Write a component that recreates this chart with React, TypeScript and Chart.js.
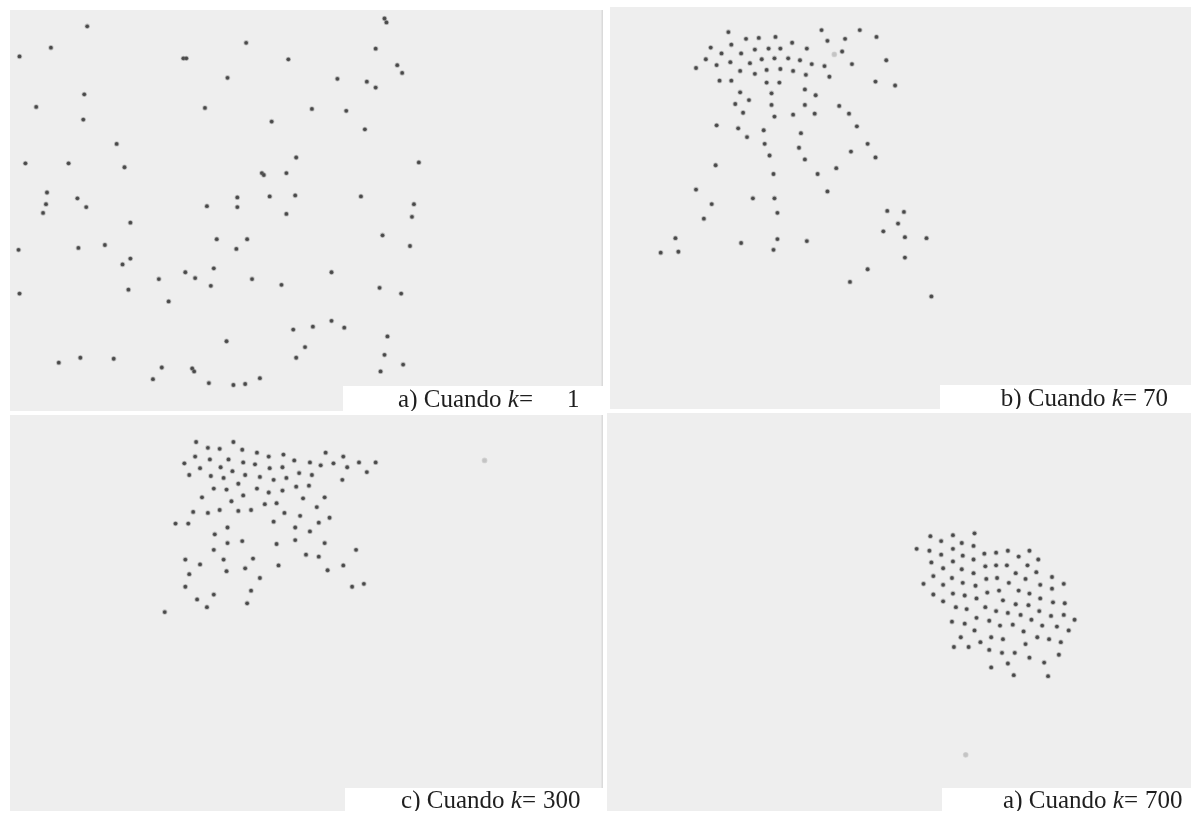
import React, { useEffect, useRef } from "react";
import { Chart, registerables } from "chart.js";

Chart.register(...registerables);

// ---- DATA (positions of swarm agents, per iteration k) ----
const kValues = [1, 70, 300, 700];
const panelLetters = ["a)", "b)", "c)", "a)"];

const swarmK1: [number, number][] = [
  [83, 21], [46, 43], [14, 52], [181, 54], [184, 54], [245, 38], [288, 55], [386, 13], [388, 17],
  [377, 44], [399, 61], [404, 69], [226, 74], [338, 75], [368, 78], [377, 84], [80, 91], [31, 104],
  [203, 105], [312, 106], [347, 108], [79, 117], [271, 119], [366, 127], [113, 142], [296, 156],
  [20, 162], [64, 162], [121, 166], [421, 161], [261, 172], [263, 174], [286, 172], [42, 192],
  [41, 204], [73, 198], [82, 207], [205, 206], [236, 197], [236, 207], [269, 196], [295, 195],
  [362, 196], [416, 204], [38, 213], [286, 214], [414, 217], [127, 223], [384, 236], [13, 251],
  [74, 249], [101, 246], [215, 240], [246, 240], [235, 250], [412, 247], [119, 266], [127, 260],
  [212, 270], [183, 274], [193, 280], [156, 281], [209, 288], [251, 281], [281, 287], [332, 274],
  [381, 290], [403, 296], [125, 292], [14, 296], [166, 304], [293, 333], [313, 330], [332, 324],
  [345, 331], [389, 340], [225, 345], [305, 351], [296, 362], [386, 359], [405, 369], [382, 376],
  [54, 367], [76, 362], [110, 363], [159, 372], [150, 384], [190, 373], [192, 376], [207, 388],
  [232, 390], [244, 389], [259, 383],
];

const swarmK70: [number, number][] = [
  [725, 27], [820, 25], [859, 25], [876, 32], [743, 34], [756, 33], [773, 32], [826, 36], [844, 34],
  [728, 40], [790, 38], [707, 43], [752, 45], [766, 44], [778, 44], [805, 44], [718, 49], [738, 49],
  [841, 47], [702, 55], [759, 55], [772, 54], [786, 54], [798, 56], [713, 61], [727, 58], [747, 59],
  [810, 60], [823, 62], [851, 60], [886, 56], [692, 64], [737, 67], [752, 70], [764, 66], [778, 65],
  [791, 67], [804, 71], [828, 73], [716, 77], [728, 77], [764, 79], [777, 79], [875, 78], [895, 82],
  [737, 89], [769, 90], [803, 86], [814, 92], [746, 97], [732, 101], [769, 102], [803, 102],
  [838, 103], [740, 110], [772, 114], [791, 112], [813, 111], [848, 111], [713, 123], [735, 126],
  [761, 128], [799, 131], [856, 124], [744, 135], [762, 142], [797, 146], [867, 142], [850, 150],
  [767, 154], [803, 158], [875, 156], [712, 164], [835, 167], [771, 173], [816, 173], [692, 189],
  [826, 191], [750, 198], [772, 198], [708, 204], [700, 219], [775, 213], [887, 211], [904, 212],
  [898, 224], [883, 232], [905, 238], [927, 239], [671, 239], [656, 254], [674, 253], [738, 244],
  [775, 240], [805, 242], [771, 251], [905, 259], [867, 271], [849, 284], [932, 299],
];
const strayK70: [number, number][] = [[833, 50]];

const swarmK300: [number, number][] = [
  [194, 437], [232, 437], [206, 443], [218, 444], [241, 445], [256, 448], [268, 452], [283, 450],
  [326, 448], [344, 452], [193, 452], [208, 455], [227, 455], [242, 458], [254, 460], [269, 464],
  [282, 463], [294, 456], [310, 458], [321, 461], [334, 459], [360, 458], [377, 458], [348, 463],
  [368, 468], [182, 459], [198, 464], [219, 463], [231, 467], [187, 471], [209, 472], [222, 474],
  [244, 471], [259, 473], [273, 476], [286, 474], [299, 469], [312, 471], [343, 476], [237, 480],
  [212, 485], [225, 486], [256, 485], [268, 489], [282, 487], [296, 483], [309, 482], [242, 492],
  [200, 494], [230, 498], [264, 501], [276, 500], [303, 495], [325, 494], [317, 504], [191, 509],
  [206, 510], [218, 507], [237, 508], [250, 507], [284, 510], [300, 513], [330, 515], [319, 520],
  [173, 521], [186, 521], [226, 525], [273, 519], [295, 525], [310, 529], [213, 532], [226, 541],
  [241, 539], [276, 542], [295, 538], [325, 541], [212, 548], [357, 548], [306, 553], [319, 555],
  [183, 558], [198, 563], [222, 558], [252, 557], [278, 564], [344, 564], [328, 569], [225, 570],
  [244, 567], [187, 573], [259, 577], [183, 586], [353, 586], [365, 583], [250, 590], [212, 594],
  [195, 599], [205, 607], [246, 603], [162, 612],
];
const strayK300: [number, number][] = [[488, 456]];

const swarmK700: [number, number][] = [
  [931, 534], [954, 533], [976, 531], [942, 539], [963, 541], [975, 544], [917, 547], [930, 549],
  [954, 547], [942, 553], [964, 554], [986, 552], [998, 551], [1010, 549], [1032, 549], [1021, 555],
  [1041, 558], [932, 561], [954, 560], [975, 558], [987, 565], [998, 564], [1009, 564], [1030, 564],
  [944, 567], [963, 568], [975, 572], [1018, 572], [1039, 571], [934, 575], [953, 577], [988, 578],
  [999, 577], [1028, 578], [1055, 576], [924, 583], [944, 584], [964, 582], [977, 585], [1011, 582],
  [1043, 584], [1067, 583], [1055, 588], [1021, 590], [1001, 590], [934, 594], [954, 593], [966, 595],
  [989, 592], [1032, 593], [944, 601], [978, 598], [1005, 600], [1043, 598], [1018, 604], [1031, 605],
  [1056, 602], [1068, 603], [957, 607], [968, 609], [987, 607], [998, 611], [1010, 613], [1023, 615],
  [1042, 611], [1054, 616], [1067, 615], [1078, 620], [953, 622], [966, 624], [978, 618], [991, 621],
  [1002, 626], [1015, 625], [1034, 620], [1045, 626], [1060, 627], [1072, 631], [976, 631], [1026, 632],
  [962, 638], [993, 638], [1005, 640], [1040, 638], [1052, 640], [1064, 643], [982, 643], [955, 648],
  [970, 648], [991, 651], [1004, 654], [1017, 654], [1028, 645], [1032, 659], [1062, 656], [1010, 665],
  [1047, 664], [993, 669], [1016, 677], [1051, 678],
];
const strayK700: [number, number][] = [[967, 759]];

const swarms = [swarmK1, swarmK70, swarmK300, swarmK700];
const strays = [[] as [number, number][], strayK70, strayK300, strayK700];

// ---- LAYOUT (page pixels) ----
type Layout = {
  left: number; top: number; width: number; height: number;
  box: [number, number, number, number];
  eqEnd: number; numStart: number; baseline: number; rightBorder: boolean;
};
const layouts: Layout[] = [
  { left: 10, top: 10, width: 593, height: 401, box: [343, 386, 603, 411], eqEnd: 533, numStart: 567, baseline: 407, rightBorder: true },
  { left: 610, top: 7, width: 581, height: 402, box: [940, 385, 1191, 409], eqEnd: 1137, numStart: 1143, baseline: 406, rightBorder: false },
  { left: 10, top: 415, width: 593, height: 396, box: [345, 788, 603, 811], eqEnd: 536, numStart: 543, baseline: 808, rightBorder: true },
  { left: 607, top: 413, width: 584, height: 398, box: [942, 788, 1191, 811], eqEnd: 1138, numStart: 1145, baseline: 808, rightBorder: false },
];

const FONT = '"Liberation Serif", "Times New Roman", serif';
const FONT_SIZE = 25;

function Panel({ idx }: { idx: number }) {
  const ref = useRef<HTMLCanvasElement | null>(null);
  const L = layouts[idx];
  useEffect(() => {
    if (!ref.current) return;
    const decor = {
      id: "decor",
      beforeDraw(chart: any) {
        const c = chart.ctx;
        c.save();
        c.fillStyle = "#eeeeee";
        c.fillRect(0, 0, chart.width, chart.height);
        if (L.rightBorder) {
          c.fillStyle = "#dadada";
          c.fillRect(chart.width - 1.5, 0, 1.5, chart.height);
        }
        c.restore();
      },
      afterDraw(chart: any) {
        const c = chart.ctx;
        c.save();
        const [x0, y0, x1, y1] = L.box;
        c.fillStyle = "#ffffff";
        c.fillRect(x0 - L.left, y0 - L.top, x1 - x0, y1 - y0);
        c.fillStyle = "#1e1e1e";
        c.textBaseline = "alphabetic";
        const normal = `${FONT_SIZE}px ${FONT}`;
        const italic = `italic ${FONT_SIZE}px ${FONT}`;
        const pre = `${panelLetters[idx]} Cuando `;
        c.font = normal;
        const wPre = c.measureText(pre).width;
        const wEq = c.measureText("=").width;
        c.font = italic;
        const wK = c.measureText("k").width;
        const start = L.eqEnd - L.left - (wPre + wK + wEq);
        const by = L.baseline - L.top;
        c.font = normal;
        c.fillText(pre, start, by);
        c.font = italic;
        c.fillText("k", start + wPre, by);
        c.font = normal;
        c.fillText("=", start + wPre + wK, by);
        c.fillText(String(kValues[idx]), L.numStart - L.left, by);
        c.restore();
      },
    };
    const chart = new Chart(ref.current, {
      type: "scatter",
      data: {
        datasets: [
          {
            data: swarms[idx].map(([x, y]) => ({ x, y })),
            pointStyle: "circle",
            pointRadius: 1.9,
            pointBackgroundColor: "#474747",
            pointBorderColor: "rgba(110,110,110,0.35)",
            pointBorderWidth: 1.6,
          },
          {
            data: strays[idx].map(([x, y]) => ({ x, y })),
            pointStyle: "circle",
            pointRadius: 2.3,
            pointBackgroundColor: "#c4c4c4",
            pointBorderColor: "rgba(200,200,200,0.6)",
            pointBorderWidth: 1.2,
          },
        ],
      },
      options: {
        animation: false,
        responsive: false,
        maintainAspectRatio: false,
        events: [],
        layout: { padding: 0 },
        plugins: { legend: { display: false }, tooltip: { enabled: false }, title: { display: false } },
        scales: {
          x: { type: "linear", min: L.left, max: L.left + L.width, display: false },
          y: { type: "linear", min: L.top, max: L.top + L.height, reverse: true, display: false },
        },
      },
      plugins: [decor],
    });
    return () => chart.destroy();
  }, [idx]);
  return (
    <canvas
      ref={ref}
      width={L.width}
      height={L.height}
      style={{ position: "absolute", left: L.left, top: L.top, width: L.width, height: L.height }}
    />
  );
}

export default function App() {
  return (
    <div style={{ position: "fixed", left: 0, top: 0, width: 1191, height: 814, background: "#ffffff", overflow: "hidden" }}>
      {layouts.map((_, i) => (
        <Panel key={i} idx={i} />
      ))}
    </div>
  );
}
